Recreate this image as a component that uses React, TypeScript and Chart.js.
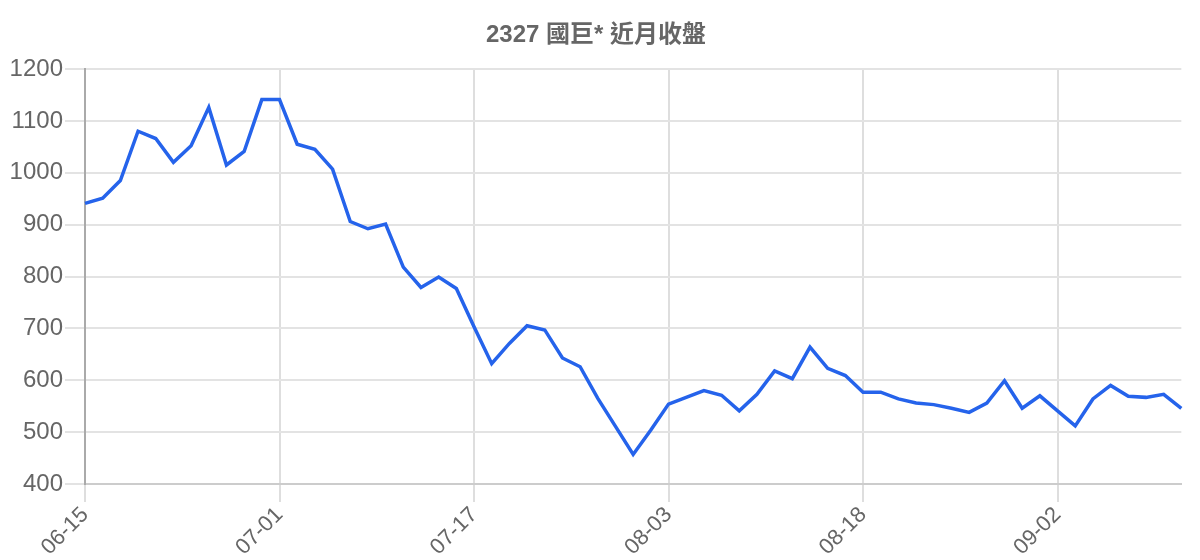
import { useEffect, useRef } from 'react';
import { Chart, registerables } from 'chart.js';

Chart.register(...registerables);

const TITLE = '2327 國巨* 近月收盤';

// 日期（每 11 筆顯示一個刻度）
const dates = [
  '06-15', '06-16', '06-17', '06-19', '06-20', '06-22', '06-23', '06-24', '06-26', '06-28', '06-29',
  '07-01', '07-02', '07-03', '07-05', '07-06', '07-08', '07-09', '07-10', '07-12', '07-13', '07-15',
  '07-17', '07-18', '07-19', '07-21', '07-22', '07-24', '07-26', '07-27', '07-29', '07-30', '08-01',
  '08-03', '08-04', '08-05', '08-07', '08-08', '08-10', '08-11', '08-12', '08-14', '08-15', '08-16',
  '08-18', '08-19', '08-20', '08-22', '08-23', '08-24', '08-26', '08-27', '08-29', '08-30', '08-31',
  '09-02', '09-03', '09-05', '09-06', '09-07', '09-09', '09-10', '09-11',
];

// 收盤價
const closes = [
  941, 951, 985, 1080, 1066, 1020, 1052, 1126, 1015, 1041,
  1141, 1141, 1055, 1045, 1007, 906, 892, 901, 818, 779,
  799, 777, 703, 632, 671, 705, 697, 643, 626, 565,
  511, 457, 504, 554, 567, 580, 571, 541, 573, 618,
  603, 664, 623, 609, 577, 577, 564, 556, 553, 546,
  538, 556, 599, 546, 570, 541, 512, 564, 590, 569,
  567, 573, 546,
];

const labelEvery = 11;
const yMin = 400;
const yMax = 1200;
const yStep = 100;

export default function App() {
  const canvasRef = useRef<HTMLCanvasElement>(null);
  const chartRef = useRef<Chart | null>(null);

  useEffect(() => {
    if (!canvasRef.current) return;
    const ctx = canvasRef.current.getContext('2d');
    if (!ctx) return;

    Chart.defaults.font.family = "'Liberation Sans', 'Noto Sans CJK TC', sans-serif";
    Chart.defaults.color = '#666';

    chartRef.current = new Chart(ctx, {
      type: 'line',
      data: {
        labels: dates,
        datasets: [{
          label: TITLE,
          data: closes,
          borderColor: 'rgb(37, 99, 235)',
          borderWidth: 3.5,
          pointRadius: 0,
          tension: 0,
          fill: false,
        }],
      },
      options: {
        animation: false,
        responsive: true,
        maintainAspectRatio: false,
        layout: { padding: { left: 9, right: 17 } },
        plugins: {
          legend: { display: false },
          tooltip: { enabled: false },
          title: {
            display: true,
            text: TITLE,
            color: '#666',
            font: { size: 24, weight: 'bold' },
            padding: { top: 21, bottom: 19.2 },
          },
        },
        scales: {
          x: {
            offset: false,
            grid: {
              color: (c: any) => (c.index % labelEvery === 0 ? '#dedede' : 'transparent'),
              lineWidth: 2,
              tickLength: 18,
            },
            border: { color: '#ccc', width: 2 },
            ticks: {
              autoSkip: false,
              maxRotation: 45,
              minRotation: 45,
              padding: 0,
              font: { size: 22 },
              callback: (_v: any, i: number) => (i % labelEvery === 0 ? dates[i] : ''),
            },
            afterFit: (scale: any) => { scale.height = 76; },
          },
          y: {
            min: yMin,
            max: yMax,
            grid: { color: '#e3e3e3', lineWidth: 2, tickLength: 20 },
            border: { color: '#aaa', width: 2 },
            ticks: {
              stepSize: yStep,
              padding: 2,
              font: { size: 24 },
              callback: (v: any) => String(v),
            },
            afterFit: (scale: any) => { scale.width = 76; },
          },
        },
      },
    });

    return () => {
      if (chartRef.current) chartRef.current.destroy();
    };
  }, []);

  return (
    <div style={{ position: 'fixed', left: 0, top: 0, width: 1200, height: 560, background: '#fff' }}>
      <canvas ref={canvasRef}></canvas>
    </div>
  );
}
